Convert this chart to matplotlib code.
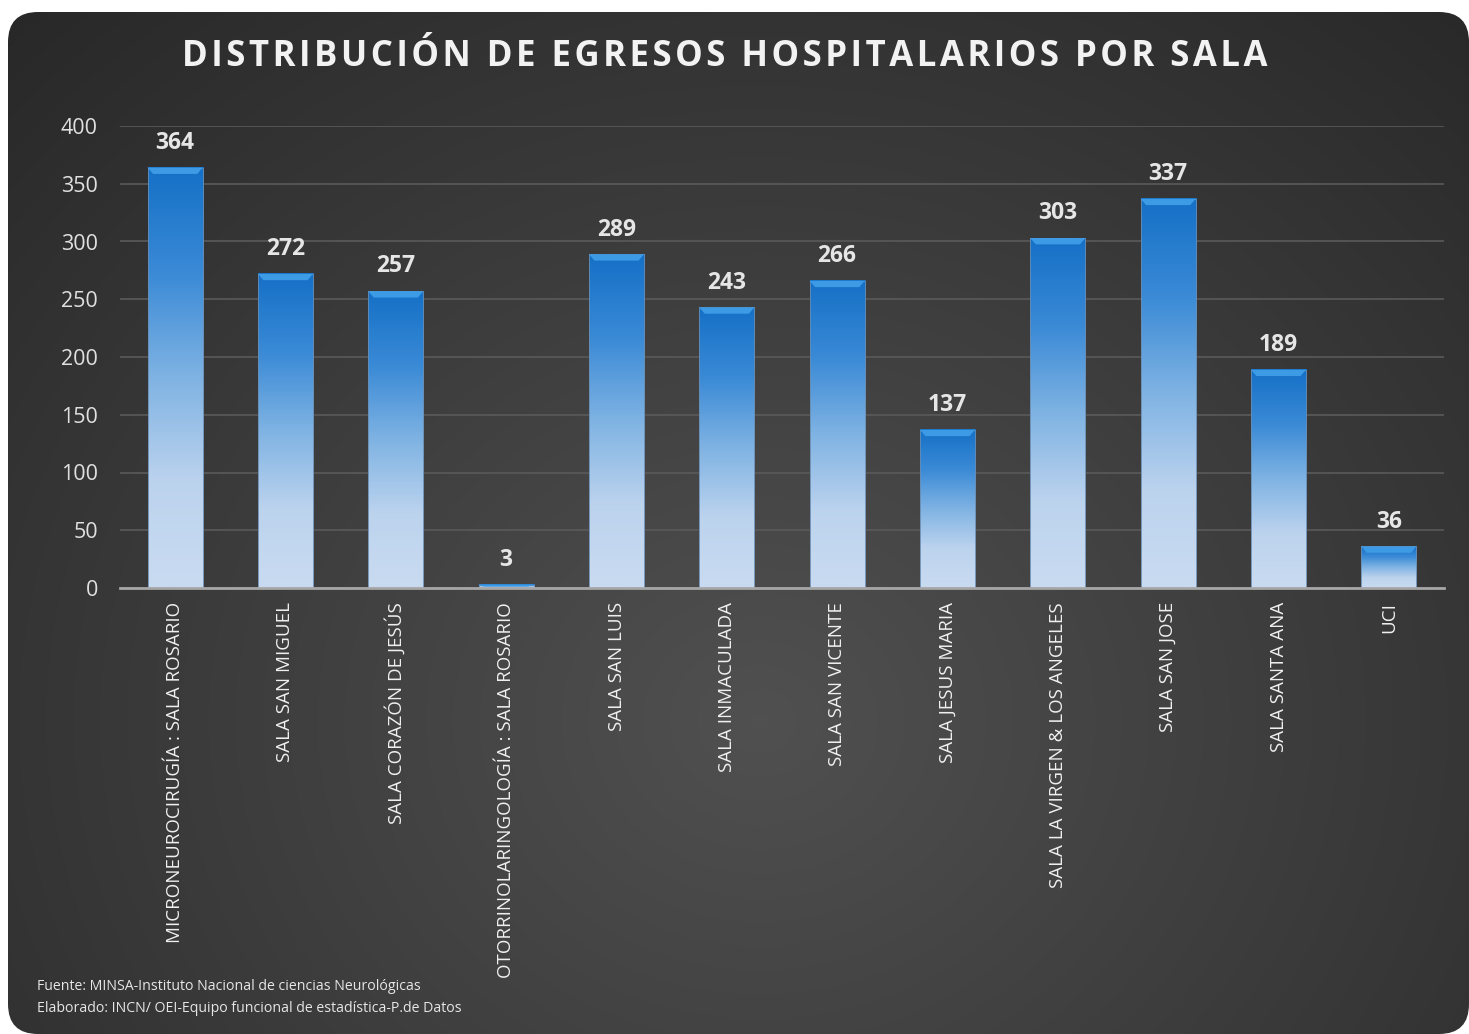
import numpy as np
import matplotlib
matplotlib.use("Agg")
import matplotlib.pyplot as plt
from matplotlib.colors import LinearSegmentedColormap
from matplotlib.patches import FancyBboxPatch, Polygon

plt.rcParams['font.family'] = ['Open Sans', 'DejaVu Sans']

# datos
salas = ["MICRONEUROCIRUGÍA : SALA ROSARIO", "SALA SAN MIGUEL", "SALA CORAZÓN DE JESÚS",
         "OTORRINOLARINGOLOGÍA : SALA ROSARIO", "SALA SAN LUIS", "SALA INMACULADA",
         "SALA SAN VICENTE", "SALA JESUS MARIA", "SALA LA VIRGEN & LOS ANGELES",
         "SALA SAN JOSE", "SALA SANTA ANA", "UCI"]
egresos = [364, 272, 257, 3, 289, 243, 266, 137, 303, 337, 189, 36]
yticks = [0, 50, 100, 150, 200, 250, 300, 350, 400]
titulo = "DISTRIBUCIÓN DE EGRESOS HOSPITALARIOS POR SALA"

W, H = 1469, 1034
fig = plt.figure(figsize=(W / 100, H / 100), dpi=100)
fig.patch.set_facecolor('white')

# fondo con degradado radial
bg = fig.add_axes([0, 0, 1, 1], zorder=0)
bg.set_xlim(0, W)
bg.set_ylim(H, 0)
bg.axis('off')
yy, xx = np.mgrid[0:H:2, 0:W:2]
r = np.sqrt(((xx - 760) / 900.0) ** 2 + ((yy - 720) / 800.0) ** 2)
shade = np.clip(0.315 - 0.13 * r, 0.15, 0.315)
img = bg.imshow(np.dstack([shade, shade, shade]), extent=[0, W, H, 0], zorder=1)
box = FancyBboxPatch((8, 12), W - 8, H - 12, boxstyle="round,pad=0,rounding_size=30",
                     facecolor='none', edgecolor='none', transform=bg.transData)
bg.add_patch(box)
img.set_clip_path(box)

# grafico
ax = fig.add_axes([120 / W, 446 / H, 1324 / W, 462 / H], zorder=1)
ax.patch.set_alpha(0)
x = np.arange(len(salas))
cmap = LinearSegmentedColormap.from_list("barra", ["#c9dbf1", "#bcd3ee", "#7fb3e3", "#3a8ad6", "#1570c6"])
grad = np.linspace(0, 1, 256).reshape(-1, 1)
ancho = 0.5
for xi, v in zip(x, egresos):
    ax.imshow(grad, extent=[xi - ancho / 2, xi + ancho / 2, 0, v], origin='lower',
              aspect='auto', cmap=cmap, zorder=3)
    ax.plot([xi - ancho / 2, xi - ancho / 2, xi + ancho / 2, xi + ancho / 2], [0, v, v, 0],
            color='#6a8cb0', lw=0.6, zorder=4)
    # bisel superior
    hb = min(5.5, v * 0.6)
    dx = 0.05
    ax.add_patch(Polygon([[xi - ancho / 2, v], [xi + ancho / 2, v], [xi + ancho / 2 - dx, v - hb],
                          [xi - ancho / 2 + dx, v - hb]], closed=True, facecolor='#3d9be6',
                         edgecolor='none', zorder=4))
    ax.text(xi, v + 11, str(v), ha='center', va='bottom', color='#e6e6e6',
            fontsize=16.5, fontweight='bold', zorder=5)

ax.set_xlim(-0.5, len(salas) - 0.5)
ax.set_ylim(0, 400)
ax.set_yticks(yticks)
ax.set_yticklabels([str(t) for t in yticks], color='#e0e0e0', fontsize=15.5)
ax.set_xticks(x)
ax.set_xticklabels(salas, rotation=90, color='#f0f0f0', fontsize=13.5)
ax.tick_params(axis='both', length=0)
ax.tick_params(axis='y', pad=16)
ax.tick_params(axis='x', pad=10)
ax.grid(axis='y', color='#5a5a5a', lw=1.2, zorder=1)
for s in ['top', 'right', 'left']:
    ax.spines[s].set_visible(False)
ax.spines['bottom'].set_color('#a6a6a6')
ax.spines['bottom'].set_linewidth(2)
ax.spines['bottom'].set_zorder(6)

# titulo con espaciado entre letras
fig.text(725 / W, 1 - 57 / H, "\u200a".join(titulo), ha='center', va='center',
         color='#f2f2f2', fontsize=25, fontweight='bold', zorder=3)
fig.text(37 / W, 1 - 987 / H, "Fuente: MINSA-Instituto Nacional de ciencias Neurológicas",
         color='#e6e6e6', fontsize=10.2, va='center', zorder=3)
fig.text(37 / W, 1 - 1008 / H, "Elaborado: INCN/ OEI-Equipo funcional de estadística-P.de Datos",
         color='#e6e6e6', fontsize=10.2, va='center', zorder=3)

fig.savefig("out.png", dpi=100)
